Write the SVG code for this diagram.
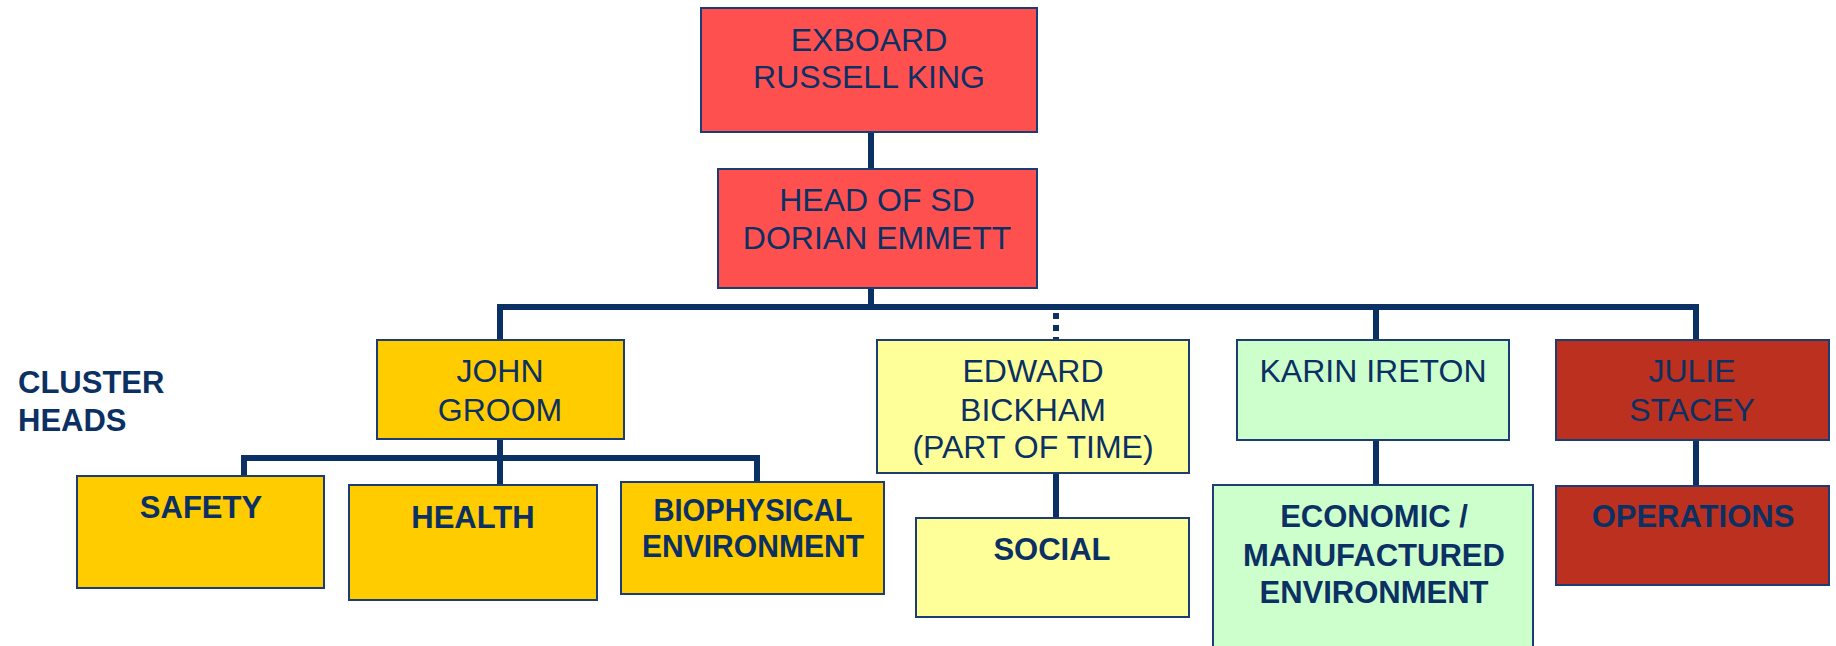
<svg xmlns="http://www.w3.org/2000/svg" width="1836" height="646" viewBox="0 0 1836 646">
<style>
.box{stroke:#1B3D73;stroke-width:2}
.red{fill:#FF5050}
.yel{fill:#FFCC00}
.lyel{fill:#FFFF99}
.grn{fill:#CCFFCC}
.dred{fill:#BB301E}
.t{font-family:"Liberation Sans",Arial,sans-serif;font-size:32px;fill:#0B3063;text-anchor:middle}
.b{font-weight:bold;font-size:31px}
.lab{font-family:"Liberation Sans",Arial,sans-serif;font-size:31px;font-weight:bold;fill:#0B3063}
.ln{stroke:#0B3063;stroke-width:6;fill:none}
</style>
<rect width="1836" height="646" fill="#FFFFFF"/>
<g id="connectors">
<line class="ln" x1="871" y1="132" x2="871" y2="169"/>
<line class="ln" x1="871" y1="288" x2="871" y2="307"/>
<line class="ln" x1="497" y1="307" x2="1699" y2="307"/>
<line class="ln" x1="500" y1="307" x2="500" y2="340"/>
<line class="ln" x1="1056" y1="313" x2="1056" y2="340" stroke-dasharray="6 6"/>
<line class="ln" x1="1376" y1="307" x2="1376" y2="340"/>
<line class="ln" x1="1696" y1="307" x2="1696" y2="340"/>
<line class="ln" x1="500" y1="439" x2="500" y2="485"/>
<line class="ln" x1="241" y1="458" x2="760" y2="458"/>
<line class="ln" x1="244" y1="458" x2="244" y2="478"/>
<line class="ln" x1="757" y1="458" x2="757" y2="482"/>
<line class="ln" x1="1056" y1="473" x2="1056" y2="518"/>
<line class="ln" x1="1376" y1="440" x2="1376" y2="485"/>
<line class="ln" x1="1696" y1="440" x2="1696" y2="486"/>
</g>
<g id="exboard">
<rect class="box red" x="701" y="8" width="336" height="124"/>
<text class="t" x="869" y="51">EXBOARD</text>
<text class="t" x="869" y="88">RUSSELL KING</text>
</g>
<g id="head-sd">
<rect class="box red" x="718" y="169" width="319" height="119"/>
<text class="t" x="877" y="211">HEAD OF SD</text>
<text class="t" x="877" y="249">DORIAN EMMETT</text>
</g>
<g id="cluster-heads-label">
<text class="lab" x="18" y="393">CLUSTER</text>
<text class="lab" x="18" y="431">HEADS</text>
</g>
<g id="john-groom">
<rect class="box yel" x="377" y="340" width="247" height="99"/>
<text class="t" x="500" y="382">JOHN</text>
<text class="t" x="500" y="421">GROOM</text>
</g>
<g id="safety">
<rect class="box yel" x="77" y="476" width="247" height="112"/>
<text class="t b" x="201" y="518">SAFETY</text>
</g>
<g id="health">
<rect class="box yel" x="349" y="485" width="248" height="115"/>
<text class="t b" x="473" y="528">HEALTH</text>
</g>
<g id="biophysical">
<rect class="box yel" x="621" y="482" width="263" height="112"/>
<text class="t b" x="753" y="521" textLength="199" lengthAdjust="spacingAndGlyphs">BIOPHYSICAL</text>
<text class="t b" x="753" y="557" textLength="222" lengthAdjust="spacingAndGlyphs">ENVIRONMENT</text>
</g>
<g id="edward-bickham">
<rect class="box lyel" x="877" y="340" width="312" height="133"/>
<text class="t" x="1033" y="382">EDWARD</text>
<text class="t" x="1033" y="421">BICKHAM</text>
<text class="t" x="1033" y="458">(PART OF TIME)</text>
</g>
<g id="social">
<rect class="box lyel" x="916" y="518" width="273" height="99"/>
<text class="t b" x="1052" y="560">SOCIAL</text>
</g>
<g id="karin-ireton">
<rect class="box grn" x="1237" y="340" width="272" height="100"/>
<text class="t" x="1373" y="382">KARIN IRETON</text>
</g>
<g id="economic">
<rect class="box grn" x="1213" y="485" width="320" height="180"/>
<text class="t b" x="1374" y="527">ECONOMIC /</text>
<text class="t b" x="1374" y="566">MANUFACTURED</text>
<text class="t b" x="1374" y="603">ENVIRONMENT</text>
</g>
<g id="julie-stacey">
<rect class="box dred" x="1556" y="340" width="273" height="100"/>
<text class="t" x="1692" y="382">JULIE</text>
<text class="t" x="1692" y="421">STACEY</text>
</g>
<g id="operations">
<rect class="box dred" x="1556" y="486" width="273" height="99"/>
<text class="t b" x="1693" y="527">OPERATIONS</text>
</g>
</svg>
